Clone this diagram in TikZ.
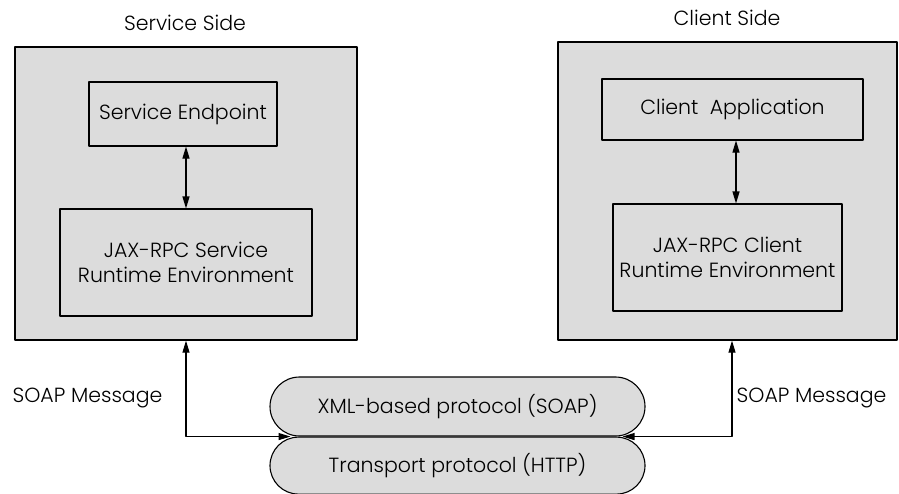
\documentclass[tikz,border=0pt]{standalone}
\usepackage{fontspec}
\setmainfont{Poppins}[UprightFont=* Light]
\usetikzlibrary{arrows.meta,positioning,shapes.misc}
\definecolor{panelgray}{RGB}{220,220,220}
\tikzset{
	side/.style={draw,fill=panelgray,line width=1.3pt,inner sep=0pt},
	unit/.style={draw,fill=panelgray,line width=1.1pt,align=center,inner sep=0pt},
	layer/.style={draw,fill=panelgray,line width=1.1pt,rounded rectangle,minimum width=375pt,inner sep=0pt},
	link/.style={line width=1.1pt,{Triangle[length=12pt,width=7pt]}-{Triangle[length=12pt,width=7pt]}}
}
\begin{document}
\begin{tikzpicture}[x=1pt,y=-1pt,font=\fontsize{20.5}{25}\selectfont,line join=round]
	\useasboundingbox (0,0) rectangle (899,493);
	% service side
	\node[side,minimum width=342pt,minimum height=293pt] (svc) at (186,193.5) {};
	\node (svctitle) at (185,23) {Service Side};
	\node[unit,minimum width=188pt,minimum height=64pt] (svcep) at (183,114) {Service Endpoint};
	\node[unit,minimum width=252pt,minimum height=107pt] (svcrt) at (186,262.5) {JAX-RPC Service\\Runtime Environment};
	\draw[link] (svcrt.north) -- (svcrt.north |- svcep.south);
	% client side
	\node[side,minimum width=339pt,minimum height=298pt] (cli) at (727.5,191) {};
	\node (clititle) at (727,18) {Client Side};
	\node[unit,minimum width=261pt,minimum height=61pt] (cliapp) at (732.5,109.5) {Client~~Application};
	\node[unit,minimum width=229pt,minimum height=107pt] (clirt) at (727.5,257.5) {JAX-RPC Client\\Runtime Environment};
	\draw[link] ([xshift=8.5pt]clirt.north) -- ([xshift=8.5pt]clirt.north |- cliapp.south);
	% protocol stack
	\node[layer,minimum height=59pt] (xmlp) at (457.5,406.5) {XML-based protocol (SOAP)};
	\node[layer,minimum height=57pt,below=0pt of xmlp] (httpp) {Transport protocol (HTTP)};
	\coordinate (tipL) at ([xshift=-167pt]xmlp.south);
	\coordinate (tipR) at ([xshift=165pt]xmlp.south);
	\draw[link] (svc.south) |- (tipL);
	\draw[link] ([xshift=4.5pt]cli.south) |- (tipR);
	\node (msgL) at (87.5,398) {SOAP Message};
	\node (msgR) at (811.5,398) {SOAP Message};
\end{tikzpicture}
\end{document}
